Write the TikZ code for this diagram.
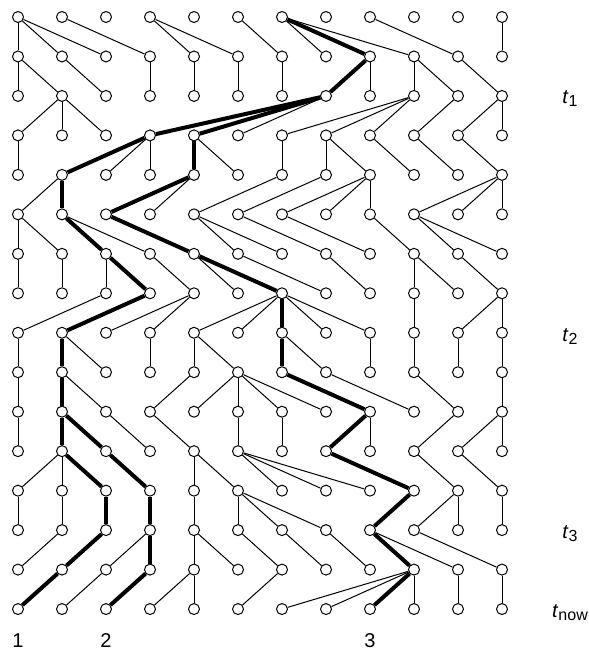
\documentclass[tikz,border=0pt]{standalone}
\usepackage{fontspec}
\setmainfont{Liberation Sans}
\begin{document}
\begin{tikzpicture}[x=1pt,y=-1pt,
  dot/.style={circle,draw,fill=white,line width=1pt,minimum size=11pt,inner sep=0pt},
  edgethin/.style={line width=1pt},
  heavy/.style={line width=4pt},
  lab/.style={font=\fontsize{20}{24}\selectfont, anchor=base, inner sep=0pt}]
\useasboundingbox (0,0) rectangle (588,652);
\foreach \c in {0,...,11}{\foreach \r in {0,...,15}{
  \node[dot] (n-\c-\r) at ({18+44*\c},{17+39.47*\r}) {};
}}
% thin edges: parent row / parent col / child col
\foreach \r/\a/\b [evaluate=\r as \s using int(\r+1)] in {
 0/0/0, 0/0/1, 0/0/2, 0/1/3, 0/3/4, 0/3/5, 0/5/6, 0/6/7, 0/6/9, 0/8/10, 0/11/11,
 1/0/0, 1/0/1, 1/1/2, 1/3/3, 1/4/4, 1/5/5, 1/6/6, 1/8/8, 1/9/9, 1/9/10, 1/10/11,
 2/1/0, 2/1/1, 2/1/2, 2/7/5, 2/9/6, 2/9/7, 2/9/8, 2/10/9, 2/11/10, 2/11/11,
 3/0/0, 3/3/2, 3/3/3, 3/4/5, 3/6/6, 3/7/7, 3/7/8, 3/8/9, 3/9/10, 3/10/11,
 4/1/0, 4/4/3, 4/6/4, 4/7/5, 4/8/6, 4/8/7, 4/8/8, 4/11/9, 4/11/10, 4/11/11,
 5/0/0, 5/0/1, 5/1/3, 5/4/5, 5/4/6, 5/5/7, 5/6/8, 5/8/9, 5/9/10, 5/9/11,
 6/0/0, 6/1/1, 6/2/2, 6/3/4, 6/4/5, 6/5/7, 6/7/8, 6/9/9, 6/9/10, 6/10/11,
 7/2/0, 7/4/2, 7/4/3, 7/6/4, 7/6/5, 7/6/7, 7/6/8, 7/9/9, 7/11/10, 7/11/11,
 8/0/0, 8/1/2, 8/3/3, 8/4/4, 8/4/5, 8/6/7, 8/8/8, 8/9/9, 8/10/10, 8/11/11,
 9/0/0, 9/1/2, 9/4/3, 9/5/4, 9/5/5, 9/5/6, 9/5/7, 9/7/9, 9/9/10, 9/11/11,
 10/0/0, 10/2/3, 10/3/4, 10/5/5, 10/6/6, 10/8/8, 10/10/9, 10/11/10, 10/11/11,
 11/1/0, 11/1/1, 11/4/4, 11/4/5, 11/5/6, 11/5/7, 11/5/8, 11/9/10, 11/10/11,
 12/0/0, 12/1/1, 12/4/4, 12/5/5, 12/5/6, 12/5/7, 12/10/9, 12/10/10, 12/11/11,
 13/1/0, 13/3/2, 13/4/4, 13/4/5, 13/5/6, 13/6/7, 13/7/8, 13/8/10, 13/9/11,
 14/2/1, 14/4/3, 14/4/4, 14/6/5, 14/9/6, 14/9/7, 14/9/9, 14/10/10, 14/11/11}
 {\draw[edgethin] (n-\a-\r) -- (n-\b-\s);}
% thick edges
\foreach \r/\a/\b [evaluate=\r as \s using int(\r+1)] in {
 0/6/8, 1/8/7, 2/7/3, 2/7/4, 3/3/1, 3/4/4, 4/1/1, 4/4/2, 5/1/2, 5/2/4,
 6/2/3, 6/4/6, 7/3/1, 7/6/6, 8/1/1, 8/6/6, 9/1/1, 9/6/8, 10/1/1, 10/1/2, 10/8/7,
 11/1/2, 11/2/3, 11/7/9, 12/2/2, 12/3/3, 12/9/8, 13/2/1, 13/3/3, 13/8/9,
 14/1/0, 14/3/2, 14/9/8}
 {\draw[heavy] (n-\a-\r) -- (n-\b-\s);}
% labels
\node[lab] (s1) at (18,647) {1};
\node[lab] (s2) at (106,647) {2};
\node[lab] (s3) at (370,647) {3};
\node[lab] (t1) at (570,104) {\textit{t}\raisebox{-3pt}{\fontsize{16}{16}\selectfont 1}};
\node[lab] (t2) at (570,341) {\textit{t}\raisebox{-3pt}{\fontsize{16}{16}\selectfont 2}};
\node[lab] (t3) at (570,538) {\textit{t}\raisebox{-3pt}{\fontsize{16}{16}\selectfont 3}};
\node[lab] (tn) at (570,617) {\textit{t}\raisebox{-3pt}{\fontsize{16}{16}\selectfont now}};
\end{tikzpicture}
\end{document}
